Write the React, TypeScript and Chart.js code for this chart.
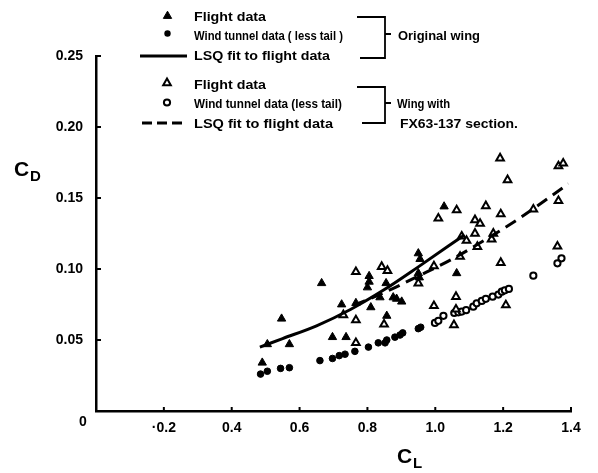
import React, { useEffect, useRef } from 'react';
import { Chart, registerables } from 'chart.js';

Chart.register(...registerables);

// ---- Data ----
const flightOrigCL = [0.49, 0.505, 0.547, 0.57, 0.665, 0.697, 0.724, 0.737, 0.766, 0.805, 0.805, 0.8, 0.81, 0.837, 0.855, 0.857, 0.876, 0.886, 0.901, 0.95, 0.955, 0.95, 0.953, 1.026, 1.063];
const flightOrigCD = [0.034, 0.047, 0.065, 0.047, 0.09, 0.052, 0.075, 0.052, 0.076, 0.095, 0.091, 0.087, 0.073, 0.08, 0.09, 0.067, 0.08, 0.079, 0.077, 0.111, 0.107, 0.097, 0.094, 0.144, 0.097];

const tunnelOrigCL = [0.485, 0.505, 0.544, 0.57, 0.66, 0.697, 0.717, 0.734, 0.763, 0.803, 0.832, 0.852, 0.857, 0.881, 0.896, 0.904, 0.95, 0.957];
const tunnelOrigCD = [0.026, 0.028, 0.03, 0.0305, 0.0355, 0.037, 0.039, 0.04, 0.042, 0.045, 0.048, 0.048, 0.05, 0.052, 0.0535, 0.055, 0.058, 0.059];

const flightFxCL = [0.729, 0.766, 0.766, 0.766, 0.842, 0.859, 0.849, 0.95, 0.996, 1.009, 1.063, 0.996, 1.061, 1.061, 1.055, 1.078, 1.092, 1.073, 1.117, 1.132, 1.117, 1.149, 1.124, 1.166, 1.171, 1.193, 1.191, 1.213, 1.193, 1.208, 1.289, 1.363, 1.377, 1.363, 1.36];
const flightFxCD = [0.0676, 0.064, 0.048, 0.098, 0.1016, 0.0988, 0.061, 0.09, 0.102, 0.1357, 0.1415, 0.074, 0.0805, 0.0716, 0.0606, 0.123, 0.12, 0.1087, 0.1345, 0.132, 0.125, 0.1444, 0.1157, 0.121, 0.125, 0.1387, 0.178, 0.1627, 0.1044, 0.0746, 0.142, 0.1725, 0.1744, 0.148, 0.116];

const tunnelFxCL = [0.999, 1.009, 1.024, 1.056, 1.068, 1.078, 1.091, 1.112, 1.122, 1.137, 1.149, 1.169, 1.186, 1.196, 1.205, 1.217, 1.289, 1.36, 1.372];
const tunnelFxCD = [0.062, 0.0635, 0.067, 0.069, 0.0695, 0.07, 0.071, 0.0735, 0.0758, 0.0775, 0.079, 0.0805, 0.082, 0.084, 0.085, 0.086, 0.0953, 0.104, 0.1075];

const lsqOrigCL = [0.483, 0.55, 0.65, 0.75, 0.85, 0.95, 1.086];
const lsqOrigCD = [0.045, 0.051, 0.06, 0.0715, 0.0855, 0.1015, 0.124];

const lsqFxCL = [0.76, 0.85, 0.95, 1.05, 1.15, 1.25, 1.392];
const lsqFxCD = [0.0745, 0.0835, 0.095, 0.107, 0.121, 0.136, 0.16];

const xTickValues = [0.2, 0.4, 0.6, 0.8, 1.0, 1.2, 1.4];
const xTickLabels = ['·0.2', '0.4', '0.6', '0.8', '1.0', '1.2', '1.4'];
const yTickValues = [0.05, 0.1, 0.15, 0.2, 0.25];
const yTickLabels = ['0.05', '0.10', '0.15', '0.20', '0.25'];
const originLabel = '0';

const legendOrig = ['Flight data', 'Wind tunnel data ( less tail )', 'LSQ fit to flight data'];
const legendFx = ['Flight data', 'Wind tunnel data (less tail)', 'LSQ fit to flight data'];
const groupOrig = ['Original wing'];
const groupFx = ['Wing with', 'FX63-137 section.'];

const FONT = '"Liberation Sans", Arial, sans-serif';

function pts(xs: number[], ys: number[]) {
  return xs.map((x, i) => ({ x, y: ys[i] }));
}

function labelFor(v: number, values: number[], labels: string[]) {
  const i = values.findIndex((t) => Math.abs(t - v) < 1e-6);
  return i >= 0 ? labels[i] : '';
}

function stretchText(ctx: CanvasRenderingContext2D, text: string, x: number, y: number, w: number) {
  const m = ctx.measureText(text).width;
  ctx.save();
  ctx.translate(x, y);
  ctx.scale(w / m, 1);
  ctx.fillText(text, 0, 0);
  ctx.restore();
}

function triangle(ctx: CanvasRenderingContext2D, cx: number, cy: number, r: number, filled: boolean) {
  ctx.beginPath();
  for (let k = 0; k < 3; k++) {
    const a = (k * 2 * Math.PI) / 3;
    const px = cx + Math.sin(a) * r;
    const py = cy - Math.cos(a) * r;
    if (k === 0) ctx.moveTo(px, py);
    else ctx.lineTo(px, py);
  }
  ctx.closePath();
  if (filled) ctx.fill();
  ctx.stroke();
}

const decorPlugin = {
  id: 'decor',
  afterDraw(chart: any) {
    const { ctx, chartArea, scales } = chart;
    const xs = scales.x;
    const ys = scales.y;
    ctx.save();
    ctx.strokeStyle = '#000';
    ctx.fillStyle = '#000';
    ctx.lineWidth = 2;
    // inward tick marks
    xTickValues.forEach((v) => {
      const px = xs.getPixelForValue(v);
      ctx.beginPath();
      ctx.moveTo(px, chartArea.bottom);
      ctx.lineTo(px, chartArea.bottom - 4);
      ctx.stroke();
    });
    yTickValues.forEach((v) => {
      const py = ys.getPixelForValue(v);
      ctx.beginPath();
      ctx.moveTo(chartArea.left, py);
      ctx.lineTo(chartArea.left + 5, py);
      ctx.stroke();
    });
    // origin label
    ctx.font = `bold 14px ${FONT}`;
    ctx.textAlign = 'center';
    ctx.textBaseline = 'middle';
    ctx.fillText(originLabel, chartArea.left - 13, chartArea.bottom + 11);

    // axis titles
    ctx.textAlign = 'left';
    ctx.textBaseline = 'alphabetic';
    ctx.font = `bold 21px ${FONT}`;
    ctx.fillText('C', 14, 176);
    ctx.fillText('C', 397, 463);
    ctx.font = `bold 15px ${FONT}`;
    ctx.fillText('D', 30, 181);
    ctx.fillText('L', 413, 468);

    // legend markers
    ctx.lineWidth = 1;
    triangle(ctx, 167.5, 16, 4.8, true);
    ctx.beginPath();
    ctx.arc(167.5, 33.5, 3.2, 0, Math.PI * 2);
    ctx.fill();
    ctx.lineWidth = 3;
    ctx.beginPath();
    ctx.moveTo(140, 56);
    ctx.lineTo(187, 56);
    ctx.stroke();
    ctx.lineWidth = 2;
    ctx.fillStyle = '#fff';
    triangle(ctx, 167, 83, 4.4, true);
    ctx.beginPath();
    ctx.arc(167, 102.5, 3.1, 0, Math.PI * 2);
    ctx.fill();
    ctx.stroke();
    ctx.fillStyle = '#000';
    ctx.lineWidth = 3;
    ctx.setLineDash([10, 5]);
    ctx.beginPath();
    ctx.moveTo(142, 123);
    ctx.lineTo(183, 123);
    ctx.stroke();
    ctx.setLineDash([]);

    // legend text
    ctx.font = `bold 13px ${FONT}`;
    stretchText(ctx, legendOrig[0], 194, 20.5, 72);
    stretchText(ctx, legendOrig[1], 194, 39.5, 149);
    stretchText(ctx, legendOrig[2], 194, 59.5, 136);
    stretchText(ctx, legendFx[0], 194, 89, 72);
    stretchText(ctx, legendFx[1], 194, 108, 148);
    stretchText(ctx, legendFx[2], 194, 128, 139);
    stretchText(ctx, groupOrig[0], 398, 39.5, 82);
    stretchText(ctx, groupFx[0], 397, 108, 53);
    stretchText(ctx, groupFx[1], 400, 128, 118);

    // brackets
    ctx.lineWidth = 1.8;
    ctx.beginPath();
    ctx.moveTo(357, 17);
    ctx.lineTo(385, 17);
    ctx.lineTo(385, 58);
    ctx.lineTo(360, 58);
    ctx.moveTo(385, 34);
    ctx.lineTo(391, 34);
    ctx.moveTo(357, 87);
    ctx.lineTo(385, 87);
    ctx.lineTo(385, 123);
    ctx.lineTo(362, 123);
    ctx.moveTo(385, 103);
    ctx.lineTo(391, 103);
    ctx.stroke();
    ctx.restore();
  },
};

export default function App() {
  const canvasRef = useRef<HTMLCanvasElement | null>(null);

  useEffect(() => {
    if (!canvasRef.current) return;
    const chart = new Chart(canvasRef.current, {
      type: 'scatter',
      data: {
        datasets: [
          {
            label: 'LSQ fit original',
            data: pts(lsqOrigCL, lsqOrigCD),
            showLine: true,
            borderColor: '#000',
            borderWidth: 3,
            pointRadius: 0,
            cubicInterpolationMode: 'monotone',
            fill: false,
          },
          {
            label: 'LSQ fit FX63',
            data: pts(lsqFxCL, lsqFxCD),
            showLine: true,
            borderColor: '#000',
            borderWidth: 3,
            borderDash: [12, 7],
            pointRadius: 0,
            cubicInterpolationMode: 'monotone',
            fill: false,
          },
          {
            label: 'Flight data original',
            data: pts(flightOrigCL, flightOrigCD),
            pointStyle: 'triangle',
            pointRadius: 4.8,
            backgroundColor: '#000',
            borderColor: '#000',
            borderWidth: 1,
          },
          {
            label: 'Wind tunnel original',
            data: pts(tunnelOrigCL, tunnelOrigCD),
            pointStyle: 'circle',
            pointRadius: 3.3,
            backgroundColor: '#000',
            borderColor: '#000',
            borderWidth: 1,
          },
          {
            label: 'Flight data FX63',
            data: pts(flightFxCL, flightFxCD),
            pointStyle: 'triangle',
            pointRadius: 4.4,
            backgroundColor: '#fff',
            borderColor: '#000',
            borderWidth: 2,
          },
          {
            label: 'Wind tunnel FX63',
            data: pts(tunnelFxCL, tunnelFxCD),
            pointStyle: 'circle',
            pointRadius: 3.1,
            backgroundColor: '#fff',
            borderColor: '#000',
            borderWidth: 2,
          },
        ] as any,
      },
      options: {
        animation: false,
        responsive: true,
        maintainAspectRatio: false,
        events: [],
        layout: { padding: { top: 56, right: 27, left: 0, bottom: 0 } },
        plugins: { legend: { display: false }, tooltip: { enabled: false } },
        scales: {
          x: {
            type: 'linear',
            min: 0,
            max: 1.4,
            afterFit: (s: any) => {
              s.height = 62;
            },
            afterBuildTicks: (s: any) => {
              s.ticks = [0, ...xTickValues].map((v) => ({ value: v }));
            },
            ticks: {
              color: '#000',
              padding: 9,
              maxRotation: 0,
              autoSkip: false,
              font: { family: FONT, size: 14, weight: 'bold' },
              callback: (v: any) => labelFor(Number(v), xTickValues, xTickLabels),
            },
            grid: { display: false, drawTicks: false },
            border: { display: true, color: '#000', width: 2.5 },
          },
          y: {
            type: 'linear',
            min: 0,
            max: 0.25,
            afterFit: (s: any) => {
              s.width = 96;
            },
            afterBuildTicks: (s: any) => {
              s.ticks = [0, ...yTickValues].map((v) => ({ value: v }));
            },
            ticks: {
              color: '#000',
              padding: 13,
              autoSkip: false,
              font: { family: FONT, size: 14, weight: 'bold' },
              callback: (v: any) => labelFor(Number(v), yTickValues, yTickLabels),
            },
            grid: { display: false, drawTicks: false },
            border: { display: true, color: '#000', width: 2.5 },
          },
        },
      } as any,
      plugins: [decorPlugin],
    });
    return () => chart.destroy();
  }, []);

  return (
    <div style={{ position: 'absolute', left: 0, top: 0, width: 598, height: 473, background: '#fff' }}>
      <canvas ref={canvasRef} />
    </div>
  );
}
